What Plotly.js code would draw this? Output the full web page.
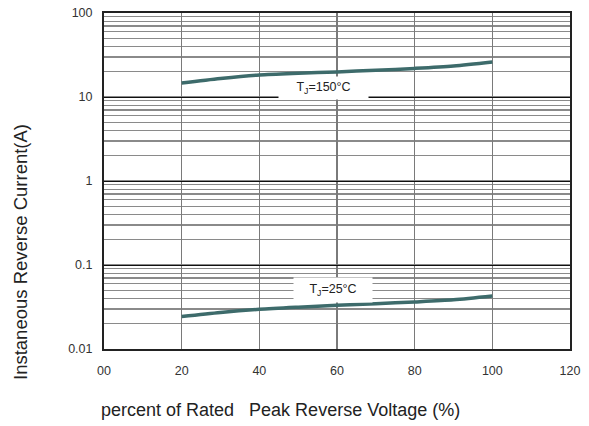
<!DOCTYPE html>
<html><head><meta charset="utf-8">
<script src="https://cdn.plot.ly/plotly-3.0.1.min.js"></script>
<style>html,body{margin:0;padding:0;background:#fff}</style>
</head><body>
<div id="chart" style="width:589px;height:426px"></div>
<script>
const voltagePct = [20, 30, 40, 50, 60, 70, 80, 90, 100];
const current150 = [14.7, 16.6, 18.3, 19.2, 19.9, 20.8, 21.9, 23.4, 26.1];
const current25 = [0.0243, 0.0272, 0.0297, 0.0315, 0.0331, 0.0346, 0.0363, 0.0385, 0.0427];
const xTickVals = [0, 20, 40, 60, 80, 100, 120];
const xTickText = ['00', '20', '40', '60', '80', '100', '120'];
const yTickVals = [0.01, 0.1, 1, 10, 100];
const yTickText = ['0.01', '0.1', '1', '10', '100'];
const label150 = 'T<sub>J</sub>=150°C';
const label25 = 'T<sub>J</sub>=25°C';
const xTitle = 'percent of Rated\u00a0\u00a0 Peak Reverse Voltage (%)';
const yTitle = 'Instaneous Reverse Current(A)';

const FONT = 'Liberation Sans, Arial, sans-serif';
const lineStyle = {color: '#3d6b6b', width: 3.5, shape: 'spline', smoothing: 0.8};
const traces = [
  {x: voltagePct, y: current150, mode: 'lines', line: lineStyle, hoverinfo: 'skip'},
  {x: voltagePct, y: current25, mode: 'lines', line: lineStyle, hoverinfo: 'skip'}
];
const tickFont = {family: FONT, size: 12.5, color: '#333'};
const pw = 589 - 104 - 19, ph = 426 - 13 - 77;
const layout = {
  width: 589, height: 426,
  margin: {l: 104, r: 19, t: 13, b: 77},
  paper_bgcolor: '#fff', plot_bgcolor: '#fff',
  showlegend: false,
  xaxis: {
    range: [0, 120], tickvals: xTickVals, ticktext: xTickText,
    showgrid: true, gridcolor: '#7a7a7a', gridwidth: 1.5,
    zeroline: false, showline: true, linecolor: '#222', linewidth: 2, mirror: true,
    ticks: '', ticklabelstandoff: 9, tickfont: tickFont
  },
  yaxis: {
    type: 'log', range: [-2, 2], tickvals: yTickVals, ticktext: yTickText,
    showgrid: true, gridcolor: '#111', gridwidth: 1,
    minor: {showgrid: true, gridcolor: '#8a8a8a', gridwidth: 1.2, dtick: 'D1'},
    zeroline: false, showline: true, linecolor: '#222', linewidth: 2, mirror: true,
    ticks: '', ticklabelstandoff: 7, tickfont: tickFont
  },
  annotations: [
    {x: 56.5, y: 1.107, xref: 'x', yref: 'y', text: label150, showarrow: false,
     bgcolor: '#fff', width: 87, height: 20,
     font: {family: FONT, size: 12.5, color: '#222'}},
    {x: 59, y: -1.298, xref: 'x', yref: 'y', text: label25, showarrow: false,
     bgcolor: '#fff', width: 76, height: 22,
     font: {family: FONT, size: 12.5, color: '#222'}},
    {x: (280 - 104) / pw, y: (349 - 410) / ph, xref: 'paper', yref: 'paper',
     xanchor: 'center', yanchor: 'middle', text: xTitle,
     showarrow: false, font: {family: FONT, size: 18, color: '#222'}},
    {x: (20 - 104) / pw, y: (349 - 252) / ph, xref: 'paper', yref: 'paper',
     xanchor: 'center', yanchor: 'middle', text: yTitle, textangle: -90,
     showarrow: false, font: {family: FONT, size: 18.5, color: '#222'}}
  ]
};
Plotly.newPlot('chart', traces, layout, {staticPlot: true, displayModeBar: false});
</script>
</body></html>
